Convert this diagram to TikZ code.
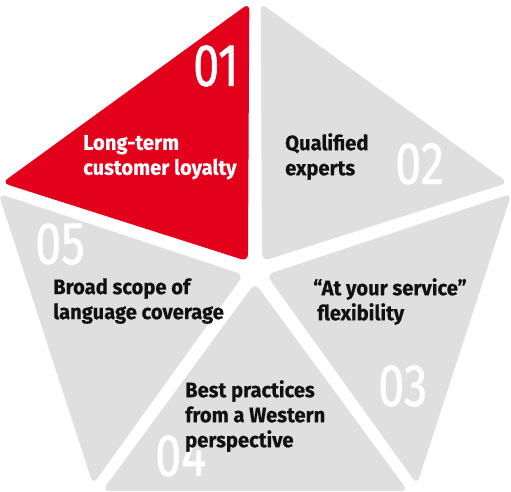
\documentclass[tikz,border=0pt]{standalone}
\usepackage{fontspec}
\setmainfont{Fira Sans}
\newfontfamily\itemfont{Fira Sans}[FakeStretch=0.96, BoldFeatures={FakeBold=0.4}]
\newfontfamily\numfont{Fira Sans}[FakeStretch=0.78, FakeBold=1]
\usetikzlibrary{calc}
\definecolor{hsred}{HTML}{E3001B}
\definecolor{hsgray}{HTML}{DFDFDF}
\definecolor{hsink}{HTML}{111111}

\begin{document}
\begin{tikzpicture}[x=1pt, y=1pt,
    wedge/.style={rounded corners=7pt},
    itemtext/.style={anchor=north west, inner sep=0pt, align=left, text=hsink,
        font=\itemfont\bfseries\fontsize{21}{25}\selectfont},
    itemnum/.style={anchor=north west, inner sep=0pt, white,
        font=\numfont\fontsize{60}{60}\selectfont}]
    \useasboundingbox (0,0) rectangle (511,491);
    \def\rad{272}
    % pentagon corners around the hub
    \coordinate (C) at (255,220);
    \coordinate (top) at ($(C)+(90:\rad)$);
    \coordinate (right) at ($(C)+(18:\rad)$);
    \coordinate (botR) at ($(C)+(-54:\rad)$);
    \coordinate (botL) at ($(C)+(234:\rad)$);
    \coordinate (left) at ($(C)+(162:\rad)$);
    % five wedges with white gaps
    \foreach \va/\vb/\bis/\col in {top/left/126/hsred, right/top/54/hsgray,
        botR/right/-18/hsgray, botL/botR/-90/hsgray, left/botL/198/hsgray}
        \fill[wedge, \col] ($(C)+(\bis:12)$) -- ($(\va)!7pt!(\vb)$)
            -- ($(\vb)!7pt!(\va)$) -- cycle;
    % numbers
    \node[itemnum] (n01) at (193,446) {01};
    \node[itemnum] (n02) at (395,348) {02};
    \node[itemnum] (n03) at (378,126) {03};
    \node[itemnum] (n04) at (155,56) {04};
    \node[itemnum] (n05) at (35,268) {05};
    % texts
    \node[itemtext, text=white] (loyalty) at (83,356) {Long-term\\customer loyalty};
    \node[itemtext] (experts) at (285,358) {Qualified\\experts};
    \node[itemtext] (service) at (313,213) {“At your service”\\\hspace{4pt}flexibility};
    \node[itemtext] (western) at (185,111) {Best practices\\from a Western\\perspective};
    \node[itemtext] (scope) at (53,213) {Broad scope of\\language coverage};
\end{tikzpicture}
\end{document}
